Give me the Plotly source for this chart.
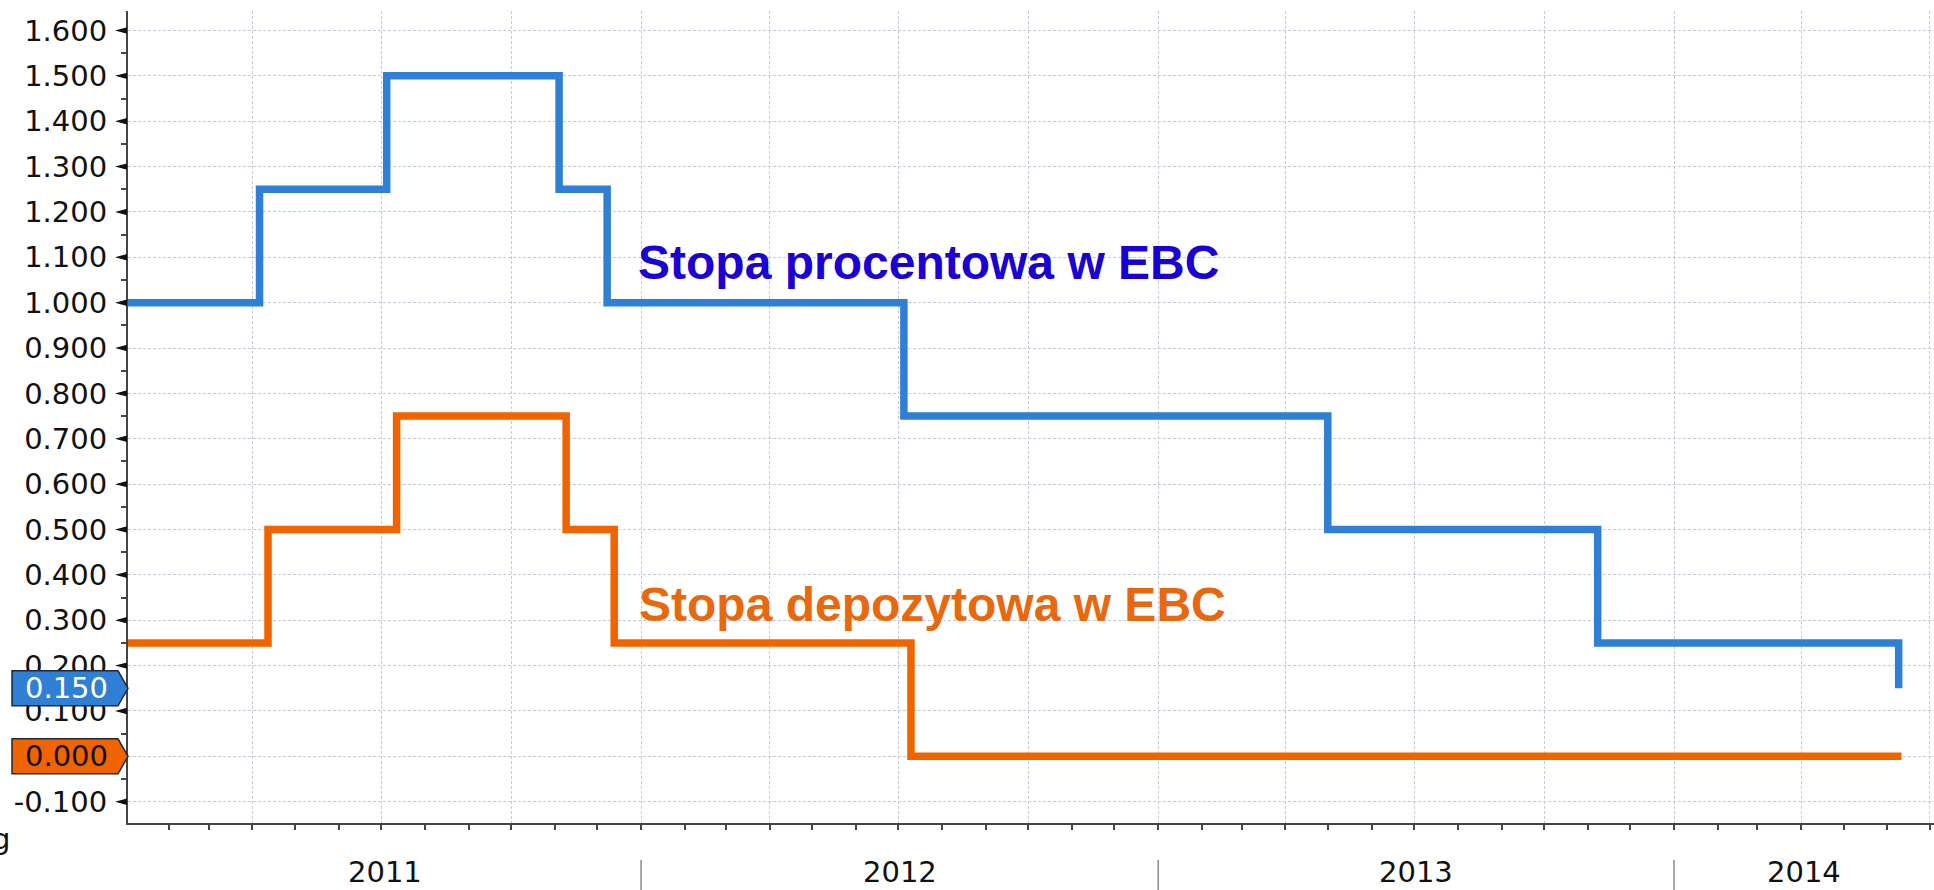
import plotly.graph_objects as go
import pandas as pd

# ---------------- data ----------------
refi_dates = ["2010-12-31", "2011-04-06", "2011-07-05", "2011-11-04", "2011-12-08",
              "2012-07-05", "2013-05-01", "2013-11-08", "2014-06-09"]
refi_values = [1.00, 1.25, 1.50, 1.25, 1.00, 0.75, 0.50, 0.25, 0.15]

depo_dates = ["2010-12-31", "2011-04-12", "2011-07-12", "2011-11-09", "2011-12-13",
              "2012-07-10", "2014-06-11"]
depo_values = [0.25, 0.50, 0.75, 0.50, 0.25, 0.00, 0.00]

y_tick_values = [-0.1, 0.0, 0.1, 0.2, 0.3, 0.4, 0.5, 0.6, 0.7, 0.8,
                 0.9, 1.0, 1.1, 1.2, 1.3, 1.4, 1.5, 1.6]
y_tick_text = [f"{v:.3f}" for v in y_tick_values]
years = [2011, 2012, 2013, 2014]

refi_label = "Stopa procentowa w EBC"
depo_label = "Stopa depozytowa w EBC"

# ---------------- style ----------------
W, H = 1934, 890
ML, MR, MT, MB = 128, 0, 11, 67
PW, PH = W - ML - MR, H - MT - MB
x_range = ["2011-01-02 22:00", "2014-07-04"]
y_range = [-0.147, 1.643]
BLUE = "#2f7fd4"
ORANGE = "#f06400"
GRID = "#c6c9d9"
AXIS = "#444444"
FONT = "DejaVu Sans"
FS = 29


def px_x(px):
    return (px - ML) / PW


def px_y(px):
    return (H - MB - px) / PH


def dy(px):
    return px * (y_range[1] - y_range[0]) / PH


fig = go.Figure()
fig.add_trace(go.Scatter(x=refi_dates, y=refi_values, mode="lines", line_shape="hv",
                         line=dict(color=BLUE, width=7.5), hoverinfo="skip", showlegend=False))
fig.add_trace(go.Scatter(x=depo_dates, y=depo_values, mode="lines", line_shape="hv",
                         line=dict(color=ORANGE, width=7.5), hoverinfo="skip", showlegend=False))

shapes = []
annotations = []

# y-axis triangle tick markers
for v in y_tick_values:
    h = dy(3.2)
    shapes.append(dict(type="path", xref="paper", yref="y",
                       path=f"M {px_x(115)},{v} L {px_x(127)},{v + h} L {px_x(127)},{v - h} Z",
                       fillcolor="#111111", line=dict(width=0), layer="above"))

# year separators and labels
r0, r1 = pd.Timestamp(x_range[0]), pd.Timestamp(x_range[1])
for y in years:
    ys = pd.Timestamp(f"{y}-01-01")
    ye = pd.Timestamp(f"{y + 1}-01-01")
    if r0 < ys < r1:
        shapes.append(dict(type="line", xref="x", yref="paper", x0=ys, x1=ys,
                           y0=px_y(860), y1=px_y(892), line=dict(color="#8a8a8a", width=1.5)))
    s, e = max(ys, r0), min(ye, r1)
    mid = s + (e - s) / 2
    annotations.append(dict(x=mid, y=px_y(872), xref="x", yref="paper", text=str(y),
                            showarrow=False, xanchor="center", yanchor="middle",
                            font=dict(family=FONT, size=FS, color="#111111")))

# last value tags
for val, fill, tcol in [(refi_values[-1], BLUE, "#ffffff"), (depo_values[-1], ORANGE, "#111111")]:
    h = dy(17.5)
    shapes.append(dict(type="path", xref="paper", yref="y",
                       path=(f"M {px_x(12)},{val + h} L {px_x(118)},{val + h} L {px_x(128)},{val} "
                             f"L {px_x(118)},{val - h} L {px_x(12)},{val - h} Z"),
                       fillcolor=fill, line=dict(color="#1e2a3a", width=1.5), layer="above"))
    annotations.append(dict(x=px_x(66), y=val, xref="paper", yref="y", text=f"{val:.3f}",
                            showarrow=False, xanchor="center", yanchor="middle",
                            font=dict(family=FONT, size=FS, color=tcol)))

# series labels
annotations.append(dict(x=px_x(636), y=px_y(262), xref="paper", yref="paper", text=refi_label,
                        showarrow=False, xanchor="left", yanchor="middle",
                        font=dict(family="Liberation Sans", size=48, color="#1a00d2", weight="bold")))
annotations.append(dict(x=px_x(637), y=px_y(604), xref="paper", yref="paper", text=depo_label,
                        showarrow=False, xanchor="left", yanchor="middle",
                        font=dict(family="Liberation Sans", size=48, color="#e8680e", weight="bold")))

# cut-off source mark
annotations.append(dict(x=px_x(12), y=px_y(839), xref="paper", yref="paper", text="g",
                        showarrow=False, xanchor="right", yanchor="middle",
                        font=dict(family=FONT, size=FS, color="#111111")))

fig.update_layout(
    width=W, height=H, autosize=False,
    margin=dict(l=ML, r=MR, t=MT, b=MB, pad=0),
    paper_bgcolor="white", plot_bgcolor="white",
    shapes=shapes, annotations=annotations,
    xaxis=dict(type="date", range=x_range, showticklabels=False, automargin=False,
               tick0="2011-01-01", dtick="M3", ticks="outside", ticklen=5, tickwidth=1.5,
               tickcolor=AXIS, showgrid=True, gridcolor=GRID, gridwidth=1, griddash="3px,2px",
               showline=True, linecolor=AXIS, linewidth=2, zeroline=False,
               minor=dict(tick0="2011-01-01", dtick="M1", ticks="outside", ticklen=5,
                          tickwidth=1.5, tickcolor=AXIS, showgrid=False)),
    yaxis=dict(range=y_range, tickmode="array", tickvals=y_tick_values, ticktext=y_tick_text,
               automargin=False,
               ticks="outside", ticklen=13, tickcolor="rgba(0,0,0,0)",
               tickfont=dict(family=FONT, size=FS, color="#111111"),
               showgrid=True, gridcolor=GRID, gridwidth=1, griddash="3px,2px",
               showline=True, linecolor=AXIS, linewidth=2, zeroline=False,
               minor=dict(tick0=0.05, dtick=0.1, ticks="outside", ticklen=5, tickwidth=1.5,
                          tickcolor=AXIS, showgrid=False)),
)

fig.write_html("out.html", config={"displayModeBar": False},
               post_script="document.body.style.margin='0';document.body.style.overflow='hidden';")
